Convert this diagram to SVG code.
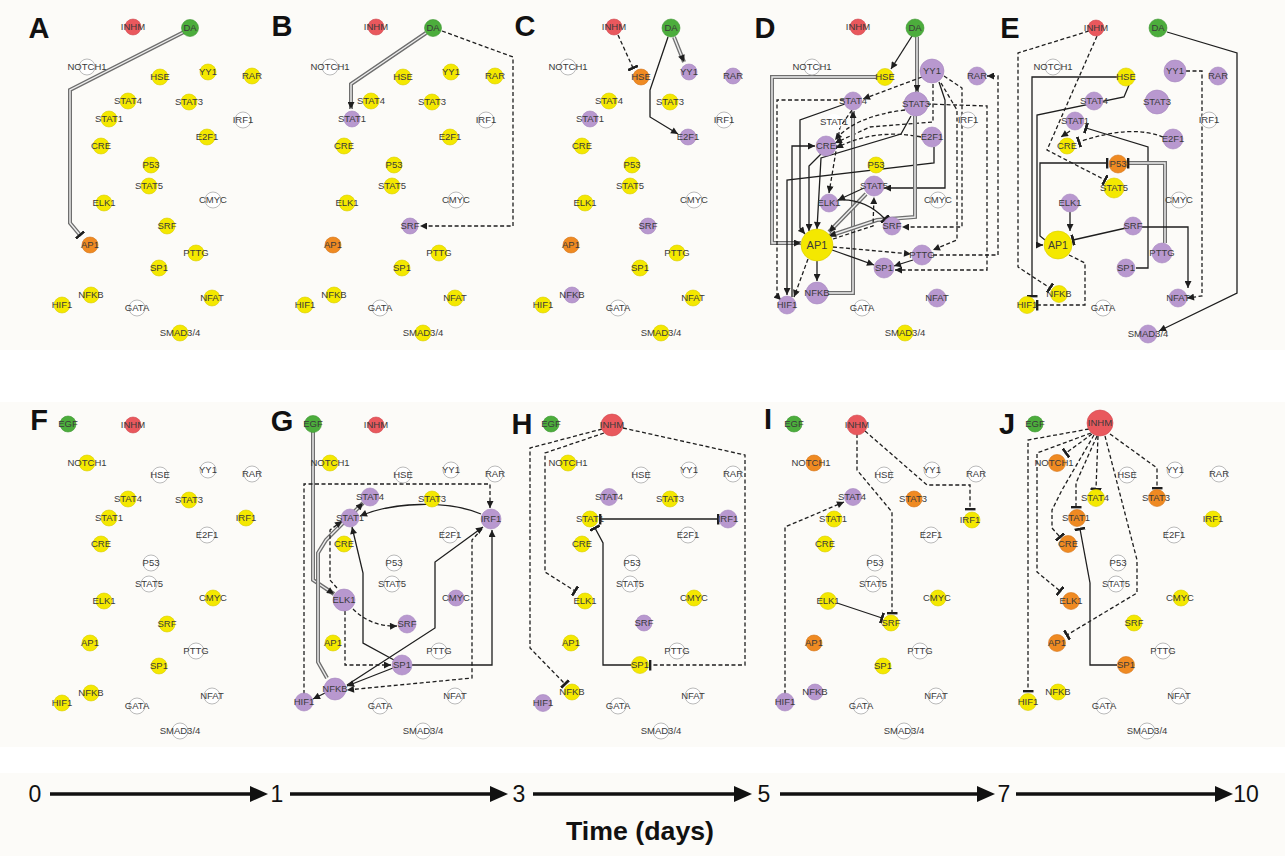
<svg xmlns="http://www.w3.org/2000/svg" width="1285" height="856" viewBox="0 0 1285 856">
<style>
text{font-family:"Liberation Sans",Arial,sans-serif}
.n text{font-size:9.5px;fill:#3a3a3a;text-anchor:middle}
.y{fill:#f4e800;stroke:#d9cd00;stroke-width:.6}
.p{fill:#b898cf;stroke:#a584bd;stroke-width:.6}
.o{fill:#ef8a22;stroke:#d4741a;stroke-width:.6}
.r{fill:#e9585d;stroke:#d04a50;stroke-width:.6}
.g{fill:#4cad3c;stroke:#3c9530;stroke-width:.6}
.w{fill:#fff;stroke:#a8a8a8;stroke-width:.8}
.s{fill:none;stroke:#1e1e1e;stroke-width:1.3}
.d{fill:none;stroke:#1e1e1e;stroke-width:1.3;stroke-dasharray:4 2.5}
.o2{fill:none;stroke:#6e6e6e;stroke-width:4}
.i2{fill:none;stroke:#eeeeee;stroke-width:1.4}
.m{fill:none;stroke:none}
.lbl{font-size:29px;font-weight:bold;fill:#111;text-anchor:middle}
.tl{font-family:"Liberation Sans Narrow","Liberation Sans",sans-serif;font-size:23px;fill:#111;text-anchor:middle}
.bg{fill:#fcfbf8}
</style>
<defs>
<marker id="a" viewBox="0 0 10 10" refX="10" refY="5" markerWidth="8" markerHeight="7" markerUnits="userSpaceOnUse" orient="auto"><path d="M0,0 L10,5 L0,10 z" fill="#1e1e1e"/></marker>
<marker id="t" viewBox="0 0 3 12" refX="1.5" refY="6" markerWidth="3" markerHeight="11" markerUnits="userSpaceOnUse" orient="auto"><rect width="3" height="12" fill="#1e1e1e"/></marker>
</defs>
<rect width="1285" height="856" fill="#fff"/>
<rect class="bg" x="0" y="0" width="1285" height="350"/>
<rect class="bg" x="0" y="402" width="1285" height="345"/>
<rect class="bg" x="0" y="773" width="1285" height="83"/>

<!-- Panel letters -->
<g id="letters">
<text class="lbl" x="39" y="38">A</text>
<text class="lbl" x="282" y="36">B</text>
<text class="lbl" x="525" y="36">C</text>
<text class="lbl" x="765" y="38">D</text>
<text class="lbl" x="1010" y="38">E</text>
<text class="lbl" x="39" y="430">F</text>
<text class="lbl" x="282" y="431">G</text>
<text class="lbl" x="522" y="434">H</text>
<text class="lbl" x="768" y="429">I</text>
<text class="lbl" x="1007" y="434">J</text>
</g>

<!-- ===== Panel A ===== -->
<g id="panelA" transform="translate(0,0)">
<g id="A-edges">
<g><path class="o2" d="M184,32 L70,90 L70,223 L80,235"/><path class="i2" d="M184,32 L70,90 L70,223 L80,235"/><path class="m" d="M184,32 L70,90 L70,223 L80,235" marker-end="url(#t)"/></g>
</g>
<g id="A-INHM" class="n"><circle class="r" cx="133" cy="27" r="8"/><text x="133" y="30.4">INHM</text></g>
<g id="A-DA" class="n"><circle class="g" cx="190" cy="28" r="8.5"/><text x="190" y="31.4">DA</text></g>
<g id="A-NOTCH1" class="n"><circle class="w" cx="87" cy="67" r="8"/><text x="87" y="70.4">NOTCH1</text></g>
<g id="A-HSE" class="n"><circle class="y" cx="160" cy="77" r="8"/><text x="160" y="80.4">HSE</text></g>
<g id="A-YY1" class="n"><circle class="y" cx="208" cy="72" r="8"/><text x="208" y="75.4">YY1</text></g>
<g id="A-RAR" class="n"><circle class="y" cx="252" cy="76" r="8"/><text x="252" y="79.4">RAR</text></g>
<g id="A-STAT4" class="n"><circle class="y" cx="128" cy="101" r="8"/><text x="128" y="104.4">STAT4</text></g>
<g id="A-STAT3" class="n"><circle class="y" cx="189" cy="102" r="8"/><text x="189" y="105.4">STAT3</text></g>
<g id="A-STAT1" class="n"><circle class="y" cx="109" cy="119" r="8"/><text x="109" y="122.4">STAT1</text></g>
<g id="A-IRF1" class="n"><circle class="w" cx="243" cy="120" r="8"/><text x="243" y="123.4">IRF1</text></g>
<g id="A-E2F1" class="n"><circle class="y" cx="207" cy="137" r="8"/><text x="207" y="140.4">E2F1</text></g>
<g id="A-CRE" class="n"><circle class="y" cx="101" cy="146" r="8"/><text x="101" y="149.4">CRE</text></g>
<g id="A-P53" class="n"><circle class="y" cx="151" cy="165" r="8"/><text x="151" y="168.4">P53</text></g>
<g id="A-STAT5" class="n"><circle class="y" cx="149" cy="186" r="8"/><text x="149" y="189.4">STAT5</text></g>
<g id="A-ELK1" class="n"><circle class="y" cx="104" cy="203" r="8"/><text x="104" y="206.4">ELK1</text></g>
<g id="A-CMYC" class="n"><circle class="w" cx="213" cy="200" r="8"/><text x="213" y="203.4">CMYC</text></g>
<g id="A-SRF" class="n"><circle class="y" cx="167" cy="226" r="8"/><text x="167" y="229.4">SRF</text></g>
<g id="A-AP1" class="n"><circle class="o" cx="90" cy="245" r="8"/><text x="90" y="248.4">AP1</text></g>
<g id="A-PTTG" class="n"><circle class="y" cx="196" cy="253" r="8"/><text x="196" y="256.4">PTTG</text></g>
<g id="A-SP1" class="n"><circle class="y" cx="159" cy="268" r="8"/><text x="159" y="271.4">SP1</text></g>
<g id="A-NFKB" class="n"><circle class="y" cx="91" cy="295" r="8"/><text x="91" y="298.4">NFKB</text></g>
<g id="A-HIF1" class="n"><circle class="y" cx="62" cy="305" r="8"/><text x="62" y="308.4">HIF1</text></g>
<g id="A-GATA" class="n"><circle class="w" cx="137" cy="308" r="8"/><text x="137" y="311.4">GATA</text></g>
<g id="A-NFAT" class="n"><circle class="y" cx="212" cy="298" r="8"/><text x="212" y="301.4">NFAT</text></g>
<g id="A-SMAD34" class="n"><circle class="y" cx="180" cy="333" r="8"/><text x="180" y="336.4">SMAD3/4</text></g>
</g>

<!-- ===== Panel B ===== -->
<g id="panelB" transform="translate(243,0)">
<g id="B-edges">
<g><path class="o2" d="M183,33 L108,84 L108,109"/><path class="i2" d="M183,33 L108,84 L108,109"/><path class="m" d="M183,33 L108,84 L108,109" marker-end="url(#a)"/></g>
<path class="d" d="M199,31 L270,57 L270,226 L177,226" marker-end="url(#a)"/>
</g>
<g id="B-INHM" class="n"><circle class="r" cx="133" cy="27" r="8"/><text x="133" y="30.4">INHM</text></g>
<g id="B-DA" class="n"><circle class="g" cx="190" cy="28" r="8.5"/><text x="190" y="31.4">DA</text></g>
<g id="B-NOTCH1" class="n"><circle class="w" cx="87" cy="67" r="8"/><text x="87" y="70.4">NOTCH1</text></g>
<g id="B-HSE" class="n"><circle class="y" cx="160" cy="77" r="8"/><text x="160" y="80.4">HSE</text></g>
<g id="B-YY1" class="n"><circle class="y" cx="208" cy="72" r="8"/><text x="208" y="75.4">YY1</text></g>
<g id="B-RAR" class="n"><circle class="y" cx="252" cy="76" r="8"/><text x="252" y="79.4">RAR</text></g>
<g id="B-STAT4" class="n"><circle class="y" cx="128" cy="101" r="8"/><text x="128" y="104.4">STAT4</text></g>
<g id="B-STAT3" class="n"><circle class="y" cx="189" cy="102" r="8"/><text x="189" y="105.4">STAT3</text></g>
<g id="B-STAT1" class="n"><circle class="p" cx="109" cy="119" r="8"/><text x="109" y="122.4">STAT1</text></g>
<g id="B-IRF1" class="n"><circle class="w" cx="243" cy="120" r="8"/><text x="243" y="123.4">IRF1</text></g>
<g id="B-E2F1" class="n"><circle class="y" cx="207" cy="137" r="8"/><text x="207" y="140.4">E2F1</text></g>
<g id="B-CRE" class="n"><circle class="y" cx="101" cy="146" r="8"/><text x="101" y="149.4">CRE</text></g>
<g id="B-P53" class="n"><circle class="y" cx="151" cy="165" r="8"/><text x="151" y="168.4">P53</text></g>
<g id="B-STAT5" class="n"><circle class="y" cx="149" cy="186" r="8"/><text x="149" y="189.4">STAT5</text></g>
<g id="B-ELK1" class="n"><circle class="y" cx="104" cy="203" r="8"/><text x="104" y="206.4">ELK1</text></g>
<g id="B-CMYC" class="n"><circle class="w" cx="213" cy="200" r="8"/><text x="213" y="203.4">CMYC</text></g>
<g id="B-SRF" class="n"><circle class="p" cx="167" cy="226" r="8"/><text x="167" y="229.4">SRF</text></g>
<g id="B-AP1" class="n"><circle class="o" cx="90" cy="245" r="8"/><text x="90" y="248.4">AP1</text></g>
<g id="B-PTTG" class="n"><circle class="y" cx="196" cy="253" r="8"/><text x="196" y="256.4">PTTG</text></g>
<g id="B-SP1" class="n"><circle class="y" cx="159" cy="268" r="8"/><text x="159" y="271.4">SP1</text></g>
<g id="B-NFKB" class="n"><circle class="y" cx="91" cy="295" r="8"/><text x="91" y="298.4">NFKB</text></g>
<g id="B-HIF1" class="n"><circle class="y" cx="62" cy="305" r="8"/><text x="62" y="308.4">HIF1</text></g>
<g id="B-GATA" class="n"><circle class="w" cx="137" cy="308" r="8"/><text x="137" y="311.4">GATA</text></g>
<g id="B-NFAT" class="n"><circle class="y" cx="212" cy="298" r="8"/><text x="212" y="301.4">NFAT</text></g>
<g id="B-SMAD34" class="n"><circle class="y" cx="180" cy="333" r="8"/><text x="180" y="336.4">SMAD3/4</text></g>
</g>

<!-- ===== Panel C ===== -->
<g id="panelC" transform="translate(481,0)">
<g id="C-edges">
<path class="d" d="M137,35 L152,68" marker-end="url(#t)"/>
<g><path class="o2" d="M193,37 L203,62"/><path class="i2" d="M193,37 L203,62"/><path class="m" d="M193,37 L203,62" marker-end="url(#a)"/></g>
<path class="s" d="M187,37 L169,90 L169,117 L197,134" marker-end="url(#a)"/>
</g>
<g id="C-INHM" class="n"><circle class="r" cx="133" cy="27" r="8"/><text x="133" y="30.4">INHM</text></g>
<g id="C-DA" class="n"><circle class="g" cx="190" cy="28" r="9"/><text x="190" y="31.4">DA</text></g>
<g id="C-NOTCH1" class="n"><circle class="w" cx="87" cy="67" r="8"/><text x="87" y="70.4">NOTCH1</text></g>
<g id="C-HSE" class="n"><circle class="o" cx="160" cy="77" r="8"/><text x="160" y="80.4">HSE</text></g>
<g id="C-YY1" class="n"><circle class="p" cx="208" cy="72" r="8"/><text x="208" y="75.4">YY1</text></g>
<g id="C-RAR" class="n"><circle class="p" cx="252" cy="76" r="8"/><text x="252" y="79.4">RAR</text></g>
<g id="C-STAT4" class="n"><circle class="y" cx="128" cy="101" r="8"/><text x="128" y="104.4">STAT4</text></g>
<g id="C-STAT3" class="n"><circle class="y" cx="189" cy="102" r="8"/><text x="189" y="105.4">STAT3</text></g>
<g id="C-STAT1" class="n"><circle class="p" cx="109" cy="119" r="8"/><text x="109" y="122.4">STAT1</text></g>
<g id="C-IRF1" class="n"><circle class="w" cx="243" cy="120" r="8"/><text x="243" y="123.4">IRF1</text></g>
<g id="C-E2F1" class="n"><circle class="p" cx="207" cy="137" r="8"/><text x="207" y="140.4">E2F1</text></g>
<g id="C-CRE" class="n"><circle class="y" cx="101" cy="146" r="8"/><text x="101" y="149.4">CRE</text></g>
<g id="C-P53" class="n"><circle class="y" cx="151" cy="165" r="8"/><text x="151" y="168.4">P53</text></g>
<g id="C-STAT5" class="n"><circle class="y" cx="149" cy="186" r="8"/><text x="149" y="189.4">STAT5</text></g>
<g id="C-ELK1" class="n"><circle class="y" cx="104" cy="203" r="8"/><text x="104" y="206.4">ELK1</text></g>
<g id="C-CMYC" class="n"><circle class="w" cx="213" cy="200" r="8"/><text x="213" y="203.4">CMYC</text></g>
<g id="C-SRF" class="n"><circle class="p" cx="167" cy="226" r="8"/><text x="167" y="229.4">SRF</text></g>
<g id="C-AP1" class="n"><circle class="o" cx="90" cy="245" r="8"/><text x="90" y="248.4">AP1</text></g>
<g id="C-PTTG" class="n"><circle class="y" cx="196" cy="253" r="8"/><text x="196" y="256.4">PTTG</text></g>
<g id="C-SP1" class="n"><circle class="y" cx="159" cy="268" r="8"/><text x="159" y="271.4">SP1</text></g>
<g id="C-NFKB" class="n"><circle class="p" cx="91" cy="295" r="8"/><text x="91" y="298.4">NFKB</text></g>
<g id="C-HIF1" class="n"><circle class="y" cx="62" cy="305" r="8"/><text x="62" y="308.4">HIF1</text></g>
<g id="C-GATA" class="n"><circle class="w" cx="137" cy="308" r="8"/><text x="137" y="311.4">GATA</text></g>
<g id="C-NFAT" class="n"><circle class="y" cx="212" cy="298" r="8"/><text x="212" y="301.4">NFAT</text></g>
<g id="C-SMAD34" class="n"><circle class="y" cx="180" cy="333" r="8"/><text x="180" y="336.4">SMAD3/4</text></g>
</g>

<!-- ===== Panel D ===== -->
<g id="panelD" transform="translate(725,0)">
<g id="D-edges">
<path class="s" d="M187,36 L166,69" marker-end="url(#a)"/>
<g><path class="o2" d="M192,37 L192,92"/><path class="i2" d="M192,37 L192,92"/><path class="m" d="M192,37 L192,92" marker-end="url(#a)"/></g>
<g><path class="o2" d="M152,77 L47,77 L47,243 L76,243"/><path class="i2" d="M152,77 L47,77 L47,243 L76,243"/><path class="m" d="M152,77 L47,77 L47,243 L76,243" marker-end="url(#a)"/></g>
<path class="d" d="M197,77 L138,99" marker-end="url(#a)"/>
<path class="d" d="M208,84 L208,122 L145,127 L110,143" marker-end="url(#a)"/>
<path class="s" d="M214,82 L220,100 L220,188 L159,188" marker-end="url(#a)"/>
<path class="d" d="M219,76 L237,88 L237,227 L177,227" marker-end="url(#a)"/>
<path class="d" d="M216,83 L232,110 L232,240 L208,250" marker-end="url(#a)"/>
<path class="d" d="M208,255 L273,255 L273,76 L262,76" marker-end="url(#a)"/>
<path class="d" d="M202,104 L262,106 L262,270 L170,270" marker-end="url(#a)"/>
<path class="d" d="M119,100 L52,100 L52,296 L56,300" marker-end="url(#a)"/>
<g><path class="o2" d="M103,293 L128,293 L128,111"/><path class="i2" d="M103,293 L128,293 L128,111"/><path class="m" d="M103,293 L128,293 L128,111" marker-end="url(#a)"/></g>
<path class="s" d="M120,104 L75,120 L75,228 L80,234" marker-end="url(#a)"/>
<path class="s" d="M186,116 L176,134 L96,158 L92,229" marker-end="url(#a)"/>
<path class="s" d="M96,154 L84,166 L84,231" marker-end="url(#a)"/>
<path class="s" d="M67,297 L67,146 L90,146" marker-end="url(#a)"/>
<path class="d" d="M196,137 Q150,128 111,148" marker-end="url(#a)"/>
<path class="s" d="M209,147 L209,163 L62,180 L62,295" marker-end="url(#a)"/>
<g><path class="o2" d="M190,116 L190,217 L152,220 L104,236"/><path class="i2" d="M190,116 L190,217 L152,220 L104,236"/><path class="m" d="M190,116 L190,217 L152,220 L104,236" marker-end="url(#a)"/></g>
<g><path class="o2" d="M141,194 L104,232"/><path class="i2" d="M141,194 L104,232"/><path class="m" d="M141,194 L104,232" marker-end="url(#a)"/></g>
<path class="d" d="M127,110 L115,127 L104,193" marker-end="url(#a)"/>
<path class="s" d="M113,200 Q140,198 160,219" marker-end="url(#t)"/>
<path class="d" d="M108,239 L148,226 L149,197" marker-end="url(#a)"/>
<path class="d" d="M108,247 L186,254" marker-end="url(#a)"/>
<path class="s" d="M107,250 Q130,258 149,265" marker-end="url(#a)"/>
<path class="s" d="M188,260 L169,266" marker-end="url(#a)"/>
<path class="s" d="M92,261 L92,281" marker-end="url(#a)"/>
<path class="d" d="M83,259 L69,297" marker-end="url(#a)"/>
<path class="s" d="M139,188 L113,200" marker-end="url(#a)"/>
<path class="d" d="M180,110 Q130,116 110,140" marker-end="url(#a)"/>
</g>
<g id="D-INHM" class="n"><circle class="r" cx="133" cy="27" r="8"/><text x="133" y="30.4">INHM</text></g>
<g id="D-DA" class="n"><circle class="g" cx="190" cy="28" r="9"/><text x="190" y="31.4">DA</text></g>
<g id="D-NOTCH1" class="n"><circle class="w" cx="87" cy="67" r="8"/><text x="87" y="70.4">NOTCH1</text></g>
<g id="D-HSE" class="n"><circle class="y" cx="160" cy="77" r="8.5"/><text x="160" y="80.4">HSE</text></g>
<g id="D-YY1" class="n"><circle class="p" cx="207" cy="71" r="12"/><text x="207" y="74.4">YY1</text></g>
<g id="D-RAR" class="n"><circle class="p" cx="252" cy="76" r="9"/><text x="252" y="79.4">RAR</text></g>
<g id="D-STAT4" class="n"><circle class="p" cx="128" cy="101" r="9"/><text x="128" y="104.4">STAT4</text></g>
<g id="D-STAT3" class="n"><circle class="p" cx="191" cy="104" r="12"/><text x="191" y="107.4">STAT3</text></g>
<g id="D-STAT1" class="n"><circle class="w" cx="109" cy="122" r="8" style="stroke:none"/><text x="109" y="125.4">STAT1</text></g>
<g id="D-IRF1" class="n"><circle class="w" cx="243" cy="120" r="8"/><text x="243" y="123.4">IRF1</text></g>
<g id="D-E2F1" class="n"><circle class="p" cx="207" cy="137" r="10"/><text x="207" y="140.4">E2F1</text></g>
<g id="D-CRE" class="n"><circle class="p" cx="101" cy="146" r="10"/><text x="101" y="149.4">CRE</text></g>
<g id="D-P53" class="n"><circle class="y" cx="151" cy="165" r="8"/><text x="151" y="168.4">P53</text></g>
<g id="D-STAT5" class="n"><circle class="p" cx="149" cy="186" r="10"/><text x="149" y="189.4">STAT5</text></g>
<g id="D-ELK1" class="n"><circle class="p" cx="104" cy="203" r="9"/><text x="104" y="206.4">ELK1</text></g>
<g id="D-CMYC" class="n"><circle class="w" cx="213" cy="200" r="8"/><text x="213" y="203.4">CMYC</text></g>
<g id="D-SRF" class="n"><circle class="p" cx="167" cy="226" r="9"/><text x="167" y="229.4">SRF</text></g>
<g id="D-AP1" class="n"><circle class="y" cx="92" cy="245" r="16"/><text x="92" y="249" style="font-size:11px">AP1</text></g>
<g id="D-PTTG" class="n"><circle class="p" cx="197" cy="255" r="10"/><text x="197" y="258.4">PTTG</text></g>
<g id="D-SP1" class="n"><circle class="p" cx="159" cy="268" r="10"/><text x="159" y="271.4">SP1</text></g>
<g id="D-NFKB" class="n"><circle class="p" cx="92" cy="293" r="11"/><text x="92" y="296.4">NFKB</text></g>
<g id="D-HIF1" class="n"><circle class="p" cx="62" cy="305" r="9"/><text x="62" y="308.4">HIF1</text></g>
<g id="D-GATA" class="n"><circle class="w" cx="137" cy="308" r="8"/><text x="137" y="311.4">GATA</text></g>
<g id="D-NFAT" class="n"><circle class="p" cx="212" cy="298" r="9"/><text x="212" y="301.4">NFAT</text></g>
<g id="D-SMAD34" class="n"><circle class="y" cx="180" cy="333" r="8"/><text x="180" y="336.4">SMAD3/4</text></g>
</g>

<!-- ===== Panel E ===== -->
<g id="panelE" transform="translate(966,0)">
<g id="E-edges">
<path class="d" d="M123,31 L52,53 L52,267 L84,288" marker-end="url(#t)"/>
<path class="d" d="M131,36 L81,150 L139,180" marker-end="url(#t)"/>
<path class="s" d="M201,32 L271,53 L271,293 L193,331" marker-end="url(#a)"/>
<path class="d" d="M220,71 L236,71 L236,296 L221,298" marker-end="url(#a)"/>
<path class="s" d="M152,77 L66,77 L66,296" marker-end="url(#t)"/>
<path class="s" d="M163,85 L158,97 L71,115 L71,245 L77,245" marker-end="url(#a)"/>
<path class="d" d="M197,137 Q165,124 113,142" marker-end="url(#t)"/>
<path class="d" d="M104,131 L95,137" marker-end="url(#a)"/>
<path class="s" d="M170,268 L182,268 L182,147 L120,128" marker-end="url(#t)"/>
<path class="s" d="M79,240 L74,236 L74,163 L141,163" marker-end="url(#t)"/>
<g><path class="o2" d="M199,243 L199,163 L162,163"/><path class="i2" d="M199,243 L199,163 L162,163"/><path class="m" d="M199,243 L199,163 L162,163" marker-end="url(#t)"/></g>
<path class="s" d="M104,212 L104,231" marker-end="url(#a)"/>
<path class="s" d="M160,228 L107,240" marker-end="url(#t)"/>
<path class="s" d="M175,227 L222,227 L222,288" marker-end="url(#a)"/>
<path class="d" d="M103,255 L119,263 L119,305 L71,305" marker-end="url(#t)"/>
</g>
<g id="E-INHM" class="n"><circle class="r" cx="130" cy="28" r="8"/><text x="130" y="31.4">INHM</text></g>
<g id="E-DA" class="n"><circle class="g" cx="192" cy="28" r="9"/><text x="192" y="31.4">DA</text></g>
<g id="E-NOTCH1" class="n"><circle class="w" cx="87" cy="67" r="8"/><text x="87" y="70.4">NOTCH1</text></g>
<g id="E-HSE" class="n"><circle class="y" cx="160" cy="77" r="9"/><text x="160" y="80.4">HSE</text></g>
<g id="E-YY1" class="n"><circle class="p" cx="209" cy="71" r="11"/><text x="209" y="74.4">YY1</text></g>
<g id="E-RAR" class="n"><circle class="p" cx="252" cy="76" r="9"/><text x="252" y="79.4">RAR</text></g>
<g id="E-STAT4" class="n"><circle class="p" cx="128" cy="101" r="9"/><text x="128" y="104.4">STAT4</text></g>
<g id="E-STAT3" class="n"><circle class="p" cx="191" cy="102" r="12"/><text x="191" y="105.4">STAT3</text></g>
<g id="E-STAT1" class="n"><circle class="p" cx="109" cy="121" r="9"/><text x="109" y="124.4">STAT1</text></g>
<g id="E-IRF1" class="n"><circle class="w" cx="243" cy="120" r="8"/><text x="243" y="123.4">IRF1</text></g>
<g id="E-E2F1" class="n"><circle class="p" cx="207" cy="139" r="10"/><text x="207" y="142.4">E2F1</text></g>
<g id="E-CRE" class="n"><circle class="y" cx="101" cy="146" r="8"/><text x="101" y="149.4">CRE</text></g>
<g id="E-P53" class="n"><circle class="o" cx="152" cy="164" r="9"/><text x="152" y="167.4">P53</text></g>
<g id="E-STAT5" class="n"><circle class="y" cx="148" cy="188" r="10"/><text x="148" y="191.4">STAT5</text></g>
<g id="E-ELK1" class="n"><circle class="p" cx="104" cy="203" r="9"/><text x="104" y="206.4">ELK1</text></g>
<g id="E-CMYC" class="n"><circle class="w" cx="213" cy="200" r="8"/><text x="213" y="203.4">CMYC</text></g>
<g id="E-SRF" class="n"><circle class="p" cx="167" cy="226" r="9"/><text x="167" y="229.4">SRF</text></g>
<g id="E-AP1" class="n"><circle class="y" cx="92" cy="245" r="14"/><text x="92" y="249" style="font-size:10.5px">AP1</text></g>
<g id="E-PTTG" class="n"><circle class="p" cx="196" cy="253" r="10"/><text x="196" y="256.4">PTTG</text></g>
<g id="E-SP1" class="n"><circle class="p" cx="160" cy="268" r="9"/><text x="160" y="271.4">SP1</text></g>
<g id="E-NFKB" class="n"><circle class="y" cx="93" cy="294" r="8.5"/><text x="93" y="297.4">NFKB</text></g>
<g id="E-HIF1" class="n"><circle class="y" cx="61" cy="305" r="8.5"/><text x="61" y="308.4">HIF1</text></g>
<g id="E-GATA" class="n"><circle class="w" cx="137" cy="308" r="8"/><text x="137" y="311.4">GATA</text></g>
<g id="E-NFAT" class="n"><circle class="p" cx="212" cy="298" r="9"/><text x="212" y="301.4">NFAT</text></g>
<g id="E-SMAD34" class="n"><circle class="p" cx="182" cy="334" r="9"/><text x="182" y="337.4">SMAD3/4</text></g>
</g>

<!-- ===== Panel F ===== -->
<g id="panelF" transform="translate(0,398)">
<g id="F-EGF" class="n"><circle class="g" cx="68" cy="26" r="8"/><text x="68" y="29.4">EGF</text></g>
<g id="F-INHM" class="n"><circle class="r" cx="133" cy="27" r="8"/><text x="133" y="30.4">INHM</text></g>
<g id="F-NOTCH1" class="n"><circle class="y" cx="87" cy="65" r="8"/><text x="87" y="68.4">NOTCH1</text></g>
<g id="F-HSE" class="n"><circle class="w" cx="160" cy="77" r="8"/><text x="160" y="80.4">HSE</text></g>
<g id="F-YY1" class="n"><circle class="w" cx="208" cy="72" r="8"/><text x="208" y="75.4">YY1</text></g>
<g id="F-RAR" class="n"><circle class="w" cx="252" cy="76" r="8"/><text x="252" y="79.4">RAR</text></g>
<g id="F-STAT4" class="n"><circle class="y" cx="128" cy="101" r="8"/><text x="128" y="104.4">STAT4</text></g>
<g id="F-STAT3" class="n"><circle class="y" cx="189" cy="102" r="8"/><text x="189" y="105.4">STAT3</text></g>
<g id="F-STAT1" class="n"><circle class="y" cx="109" cy="120" r="8"/><text x="109" y="123.4">STAT1</text></g>
<g id="F-IRF1" class="n"><circle class="y" cx="246" cy="120" r="8"/><text x="246" y="123.4">IRF1</text></g>
<g id="F-E2F1" class="n"><circle class="w" cx="207" cy="137" r="8"/><text x="207" y="140.4">E2F1</text></g>
<g id="F-CRE" class="n"><circle class="y" cx="101" cy="146" r="8"/><text x="101" y="149.4">CRE</text></g>
<g id="F-P53" class="n"><circle class="w" cx="151" cy="165" r="8"/><text x="151" y="168.4">P53</text></g>
<g id="F-STAT5" class="n"><circle class="w" cx="149" cy="186" r="8"/><text x="149" y="189.4">STAT5</text></g>
<g id="F-ELK1" class="n"><circle class="y" cx="104" cy="203" r="8"/><text x="104" y="206.4">ELK1</text></g>
<g id="F-CMYC" class="n"><circle class="y" cx="213" cy="200" r="8"/><text x="213" y="203.4">CMYC</text></g>
<g id="F-SRF" class="n"><circle class="y" cx="167" cy="226" r="8"/><text x="167" y="229.4">SRF</text></g>
<g id="F-AP1" class="n"><circle class="y" cx="90" cy="245" r="8"/><text x="90" y="248.4">AP1</text></g>
<g id="F-PTTG" class="n"><circle class="w" cx="196" cy="253" r="8"/><text x="196" y="256.4">PTTG</text></g>
<g id="F-SP1" class="n"><circle class="y" cx="159" cy="268" r="8"/><text x="159" y="271.4">SP1</text></g>
<g id="F-NFKB" class="n"><circle class="y" cx="91" cy="295" r="8"/><text x="91" y="298.4">NFKB</text></g>
<g id="F-HIF1" class="n"><circle class="y" cx="62" cy="305" r="8"/><text x="62" y="308.4">HIF1</text></g>
<g id="F-GATA" class="n"><circle class="w" cx="137" cy="308" r="8"/><text x="137" y="311.4">GATA</text></g>
<g id="F-NFAT" class="n"><circle class="w" cx="212" cy="298" r="8"/><text x="212" y="301.4">NFAT</text></g>
<g id="F-SMAD34" class="n"><circle class="w" cx="180" cy="333" r="8"/><text x="180" y="336.4">SMAD3/4</text></g>
</g>

<!-- ===== Panel G ===== -->
<g id="panelG" transform="translate(243,398)">
<g id="G-edges">
<g><path class="o2" d="M70,33 L70,182 L91,196"/><path class="i2" d="M70,33 L70,182 L91,196"/><path class="m" d="M70,33 L70,182 L91,196" marker-end="url(#a)"/></g>
<g><path class="o2" d="M84,280 L75,264 L75,155 L83,142 L120,105"/><path class="i2" d="M84,280 L75,264 L75,155 L83,142 L120,105"/><path class="m" d="M84,280 L75,264 L75,155 L83,142 L120,105" marker-end="url(#a)"/></g>
<path class="s" d="M238,116 C205,102 150,104 117,118" marker-end="url(#a)"/>
<path class="d" d="M61,296 L61,86 L247,86 L247,110" marker-end="url(#a)"/>
<path class="d" d="M94,190 L87,182 L87,132 L99,123" marker-end="url(#a)"/>
<path class="d" d="M110,211 Q128,229 154,228" marker-end="url(#a)"/>
<path class="d" d="M102,213 L102,267 L148,267" marker-end="url(#a)"/>
<path class="s" d="M151,262 L120,245 L120,175 L109,129" marker-end="url(#a)"/>
<path class="s" d="M169,267 L249,267 L249,132" marker-end="url(#a)"/>
<path class="s" d="M104,287 L192,230 L192,164 L240,129" marker-end="url(#a)"/>
<path class="s" d="M150,270 L104,288" marker-end="url(#a)"/>
<path class="d" d="M239,131 L229,142 L229,280 L104,292" marker-end="url(#a)"/>
<path class="s" d="M82,295 L70,301" marker-end="url(#a)"/>
</g>
<g id="G-EGF" class="n"><circle class="g" cx="70" cy="26" r="8.5"/><text x="70" y="29.4">EGF</text></g>
<g id="G-INHM" class="n"><circle class="r" cx="133" cy="27" r="8"/><text x="133" y="30.4">INHM</text></g>
<g id="G-NOTCH1" class="n"><circle class="y" cx="87" cy="65" r="8"/><text x="87" y="68.4">NOTCH1</text></g>
<g id="G-HSE" class="n"><circle class="w" cx="160" cy="77" r="8"/><text x="160" y="80.4">HSE</text></g>
<g id="G-YY1" class="n"><circle class="w" cx="208" cy="72" r="8"/><text x="208" y="75.4">YY1</text></g>
<g id="G-RAR" class="n"><circle class="w" cx="252" cy="76" r="8"/><text x="252" y="79.4">RAR</text></g>
<g id="G-STAT4" class="n"><circle class="p" cx="127" cy="99" r="9"/><text x="127" y="102.4">STAT4</text></g>
<g id="G-STAT3" class="n"><circle class="y" cx="189" cy="101" r="8"/><text x="189" y="104.4">STAT3</text></g>
<g id="G-STAT1" class="n"><circle class="p" cx="107" cy="120" r="9"/><text x="107" y="123.4">STAT1</text></g>
<g id="G-IRF1" class="n"><circle class="p" cx="248" cy="121" r="10"/><text x="248" y="124.4">IRF1</text></g>
<g id="G-E2F1" class="n"><circle class="w" cx="207" cy="137" r="8"/><text x="207" y="140.4">E2F1</text></g>
<g id="G-CRE" class="n"><circle class="y" cx="101" cy="146" r="8"/><text x="101" y="149.4">CRE</text></g>
<g id="G-P53" class="n"><circle class="w" cx="151" cy="165" r="8"/><text x="151" y="168.4">P53</text></g>
<g id="G-STAT5" class="n"><circle class="w" cx="149" cy="186" r="8"/><text x="149" y="189.4">STAT5</text></g>
<g id="G-ELK1" class="n"><circle class="p" cx="101" cy="202" r="11"/><text x="101" y="205.4">ELK1</text></g>
<g id="G-CMYC" class="n"><circle class="p" cx="213" cy="200" r="8"/><text x="213" y="203.4">CMYC</text></g>
<g id="G-SRF" class="n"><circle class="p" cx="164" cy="226" r="9"/><text x="164" y="229.4">SRF</text></g>
<g id="G-AP1" class="n"><circle class="y" cx="90" cy="245" r="8"/><text x="90" y="248.4">AP1</text></g>
<g id="G-PTTG" class="n"><circle class="w" cx="196" cy="253" r="8"/><text x="196" y="256.4">PTTG</text></g>
<g id="G-SP1" class="n"><circle class="p" cx="159" cy="267" r="10"/><text x="159" y="270.4">SP1</text></g>
<g id="G-NFKB" class="n"><circle class="p" cx="92" cy="291" r="11"/><text x="92" y="294.4">NFKB</text></g>
<g id="G-HIF1" class="n"><circle class="p" cx="61" cy="304" r="9"/><text x="61" y="307.4">HIF1</text></g>
<g id="G-GATA" class="n"><circle class="w" cx="137" cy="308" r="8"/><text x="137" y="311.4">GATA</text></g>
<g id="G-NFAT" class="n"><circle class="w" cx="212" cy="298" r="8"/><text x="212" y="301.4">NFAT</text></g>
<g id="G-SMAD34" class="n"><circle class="w" cx="180" cy="333" r="8"/><text x="180" y="336.4">SMAD3/4</text></g>
</g>

<!-- ===== Panel H ===== -->
<g id="panelH" transform="translate(481,398)">
<g id="H-edges">
<path class="d" d="M121,31 L49,50 L49,250 L84,286" marker-end="url(#t)"/>
<path class="d" d="M123,35 L64,55 L64,174 L94,193" marker-end="url(#t)"/>
<path class="d" d="M142,30 L264,57 L264,267 L169,267" marker-end="url(#t)"/>
<path class="s" d="M119,121 L237,121" marker-start="url(#t)" marker-end="url(#t)"/>
<path class="s" d="M151,267 L122,267 L122,145 L114,130" marker-end="url(#t)"/>
</g>
<g id="H-EGF" class="n"><circle class="g" cx="70" cy="26" r="8"/><text x="70" y="29.4">EGF</text></g>
<g id="H-INHM" class="n"><circle class="r" cx="131" cy="27" r="11"/><text x="131" y="30.4">INHM</text></g>
<g id="H-NOTCH1" class="n"><circle class="y" cx="87" cy="65" r="8"/><text x="87" y="68.4">NOTCH1</text></g>
<g id="H-HSE" class="n"><circle class="w" cx="160" cy="77" r="8"/><text x="160" y="80.4">HSE</text></g>
<g id="H-YY1" class="n"><circle class="w" cx="208" cy="72" r="8"/><text x="208" y="75.4">YY1</text></g>
<g id="H-RAR" class="n"><circle class="w" cx="252" cy="76" r="8"/><text x="252" y="79.4">RAR</text></g>
<g id="H-STAT4" class="n"><circle class="p" cx="128" cy="99" r="8.5"/><text x="128" y="102.4">STAT4</text></g>
<g id="H-STAT3" class="n"><circle class="y" cx="189" cy="101" r="8"/><text x="189" y="104.4">STAT3</text></g>
<g id="H-STAT1" class="n"><circle class="y" cx="109" cy="121" r="8"/><text x="109" y="124.4">STAT1</text></g>
<g id="H-IRF1" class="n"><circle class="p" cx="247" cy="121" r="9"/><text x="247" y="124.4">IRF1</text></g>
<g id="H-E2F1" class="n"><circle class="w" cx="207" cy="137" r="8"/><text x="207" y="140.4">E2F1</text></g>
<g id="H-CRE" class="n"><circle class="y" cx="101" cy="146" r="8"/><text x="101" y="149.4">CRE</text></g>
<g id="H-P53" class="n"><circle class="w" cx="151" cy="165" r="8"/><text x="151" y="168.4">P53</text></g>
<g id="H-STAT5" class="n"><circle class="w" cx="149" cy="186" r="8"/><text x="149" y="189.4">STAT5</text></g>
<g id="H-ELK1" class="n"><circle class="y" cx="104" cy="203" r="8"/><text x="104" y="206.4">ELK1</text></g>
<g id="H-CMYC" class="n"><circle class="y" cx="213" cy="200" r="8"/><text x="213" y="203.4">CMYC</text></g>
<g id="H-SRF" class="n"><circle class="p" cx="163" cy="225" r="8"/><text x="163" y="228.4">SRF</text></g>
<g id="H-AP1" class="n"><circle class="y" cx="90" cy="245" r="8"/><text x="90" y="248.4">AP1</text></g>
<g id="H-PTTG" class="n"><circle class="w" cx="196" cy="253" r="8"/><text x="196" y="256.4">PTTG</text></g>
<g id="H-SP1" class="n"><circle class="y" cx="159" cy="267" r="8.5"/><text x="159" y="270.4">SP1</text></g>
<g id="H-NFKB" class="n"><circle class="y" cx="91" cy="294" r="8"/><text x="91" y="297.4">NFKB</text></g>
<g id="H-HIF1" class="n"><circle class="p" cx="62" cy="305" r="8.5"/><text x="62" y="308.4">HIF1</text></g>
<g id="H-GATA" class="n"><circle class="w" cx="137" cy="308" r="8"/><text x="137" y="311.4">GATA</text></g>
<g id="H-NFAT" class="n"><circle class="w" cx="212" cy="298" r="8"/><text x="212" y="301.4">NFAT</text></g>
<g id="H-SMAD34" class="n"><circle class="w" cx="180" cy="333" r="8"/><text x="180" y="336.4">SMAD3/4</text></g>
</g>

<!-- ===== Panel I ===== -->
<g id="panelI" transform="translate(724,398)">
<g id="I-edges">
<path class="d" d="M141,33 L203,87 L246,87 L246,111" marker-end="url(#t)"/>
<path class="d" d="M133,36 L133,72 L168,114 L168,215" marker-end="url(#t)"/>
<path class="d" d="M61,296 L61,129 L120,104" marker-end="url(#a)"/>
<path class="s" d="M113,205 L158,220" marker-end="url(#t)"/>
</g>
<g id="I-EGF" class="n"><circle class="g" cx="70" cy="26" r="8"/><text x="70" y="29.4">EGF</text></g>
<g id="I-INHM" class="n"><circle class="r" cx="133" cy="27" r="10"/><text x="133" y="30.4">INHM</text></g>
<g id="I-NOTCH1" class="n"><circle class="o" cx="90" cy="65" r="8"/><text x="87" y="68.4">NOTCH1</text></g>
<g id="I-HSE" class="n"><circle class="w" cx="160" cy="77" r="8"/><text x="160" y="80.4">HSE</text></g>
<g id="I-YY1" class="n"><circle class="w" cx="208" cy="72" r="8"/><text x="208" y="75.4">YY1</text></g>
<g id="I-RAR" class="n"><circle class="w" cx="252" cy="76" r="8"/><text x="252" y="79.4">RAR</text></g>
<g id="I-STAT4" class="n"><circle class="p" cx="129" cy="99" r="8.5"/><text x="128" y="102.4">STAT4</text></g>
<g id="I-STAT3" class="n"><circle class="o" cx="190" cy="101" r="8"/><text x="189" y="104.4">STAT3</text></g>
<g id="I-STAT1" class="n"><circle class="y" cx="110" cy="121" r="8"/><text x="109" y="124.4">STAT1</text></g>
<g id="I-IRF1" class="n"><circle class="y" cx="248" cy="122" r="8"/><text x="246" y="125.4">IRF1</text></g>
<g id="I-E2F1" class="n"><circle class="w" cx="207" cy="137" r="8"/><text x="207" y="140.4">E2F1</text></g>
<g id="I-CRE" class="n"><circle class="y" cx="101" cy="146" r="8"/><text x="101" y="149.4">CRE</text></g>
<g id="I-P53" class="n"><circle class="w" cx="151" cy="165" r="8"/><text x="151" y="168.4">P53</text></g>
<g id="I-STAT5" class="n"><circle class="w" cx="149" cy="186" r="8"/><text x="149" y="189.4">STAT5</text></g>
<g id="I-ELK1" class="n"><circle class="y" cx="104" cy="203" r="8.5"/><text x="104" y="206.4">ELK1</text></g>
<g id="I-CMYC" class="n"><circle class="y" cx="214" cy="200" r="8"/><text x="213" y="203.4">CMYC</text></g>
<g id="I-SRF" class="n"><circle class="y" cx="167" cy="225" r="8"/><text x="167" y="228.4">SRF</text></g>
<g id="I-AP1" class="n"><circle class="o" cx="90" cy="245" r="8"/><text x="90" y="248.4">AP1</text></g>
<g id="I-PTTG" class="n"><circle class="w" cx="196" cy="253" r="8"/><text x="196" y="256.4">PTTG</text></g>
<g id="I-SP1" class="n"><circle class="y" cx="159" cy="268" r="8"/><text x="159" y="271.4">SP1</text></g>
<g id="I-NFKB" class="n"><circle class="p" cx="91" cy="294" r="8"/><text x="91" y="297.4">NFKB</text></g>
<g id="I-HIF1" class="n"><circle class="p" cx="61" cy="304" r="9"/><text x="61" y="307.4">HIF1</text></g>
<g id="I-GATA" class="n"><circle class="w" cx="137" cy="308" r="8"/><text x="137" y="311.4">GATA</text></g>
<g id="I-NFAT" class="n"><circle class="w" cx="212" cy="298" r="8"/><text x="212" y="301.4">NFAT</text></g>
<g id="I-SMAD34" class="n"><circle class="w" cx="180" cy="333" r="8"/><text x="180" y="336.4">SMAD3/4</text></g>
</g>

<!-- ===== Panel J ===== -->
<g id="panelJ" transform="translate(967,398)">
<g id="J-edges">
<path class="d" d="M122,31 L61,42 L61,293" marker-end="url(#t)"/>
<path class="d" d="M124,35 L70,55 L70,174 L93,193" marker-end="url(#t)"/>
<path class="d" d="M125,36 L99,55" marker-end="url(#t)"/>
<path class="d" d="M127,37 L95,92 L85,112 L85,130 L93,139" marker-end="url(#t)"/>
<path class="d" d="M130,38 L109,85 L109,109" marker-end="url(#t)"/>
<path class="d" d="M131,38 L129,91" marker-end="url(#t)"/>
<path class="d" d="M143,36 L190,70 L190,90" marker-end="url(#t)"/>
<path class="d" d="M138,38 L170,162 L170,195 L100,237" marker-end="url(#t)"/>
<path class="s" d="M150,267 L123,267 L123,185 L113,131" marker-end="url(#t)"/>
</g>
<g id="J-EGF" class="n"><circle class="g" cx="68" cy="26" r="8"/><text x="68" y="29.4">EGF</text></g>
<g id="J-INHM" class="n"><circle class="r" cx="133" cy="25" r="13"/><text x="133" y="28.4">INHM</text></g>
<g id="J-NOTCH1" class="n"><circle class="o" cx="90" cy="65" r="8.5"/><text x="87" y="68.4">NOTCH1</text></g>
<g id="J-HSE" class="n"><circle class="w" cx="160" cy="77" r="8"/><text x="160" y="80.4">HSE</text></g>
<g id="J-YY1" class="n"><circle class="w" cx="208" cy="72" r="8"/><text x="208" y="75.4">YY1</text></g>
<g id="J-RAR" class="n"><circle class="w" cx="252" cy="76" r="8"/><text x="252" y="79.4">RAR</text></g>
<g id="J-STAT4" class="n"><circle class="y" cx="129" cy="100" r="8.5"/><text x="128" y="103.4">STAT4</text></g>
<g id="J-STAT3" class="n"><circle class="o" cx="190" cy="100" r="8.5"/><text x="189" y="103.4">STAT3</text></g>
<g id="J-STAT1" class="n"><circle class="o" cx="110" cy="120" r="8.5"/><text x="109" y="123.4">STAT1</text></g>
<g id="J-IRF1" class="n"><circle class="y" cx="246" cy="121" r="8"/><text x="246" y="124.4">IRF1</text></g>
<g id="J-E2F1" class="n"><circle class="w" cx="207" cy="137" r="8"/><text x="207" y="140.4">E2F1</text></g>
<g id="J-CRE" class="n"><circle class="o" cx="101" cy="146" r="8.5"/><text x="101" y="149.4">CRE</text></g>
<g id="J-P53" class="n"><circle class="w" cx="151" cy="165" r="8"/><text x="151" y="168.4">P53</text></g>
<g id="J-STAT5" class="n"><circle class="w" cx="149" cy="186" r="8"/><text x="149" y="189.4">STAT5</text></g>
<g id="J-ELK1" class="n"><circle class="o" cx="104" cy="203" r="8.5"/><text x="104" y="206.4">ELK1</text></g>
<g id="J-CMYC" class="n"><circle class="y" cx="214" cy="200" r="8"/><text x="213" y="203.4">CMYC</text></g>
<g id="J-SRF" class="n"><circle class="y" cx="167" cy="225" r="8"/><text x="167" y="228.4">SRF</text></g>
<g id="J-AP1" class="n"><circle class="o" cx="90" cy="245" r="8.5"/><text x="90" y="248.4">AP1</text></g>
<g id="J-PTTG" class="n"><circle class="w" cx="196" cy="253" r="8"/><text x="196" y="256.4">PTTG</text></g>
<g id="J-SP1" class="n"><circle class="o" cx="159" cy="267" r="8.5"/><text x="159" y="270.4">SP1</text></g>
<g id="J-NFKB" class="n"><circle class="y" cx="91" cy="294" r="8"/><text x="91" y="297.4">NFKB</text></g>
<g id="J-HIF1" class="n"><circle class="y" cx="61" cy="304" r="8.5"/><text x="61" y="307.4">HIF1</text></g>
<g id="J-GATA" class="n"><circle class="w" cx="137" cy="308" r="8"/><text x="137" y="311.4">GATA</text></g>
<g id="J-NFAT" class="n"><circle class="w" cx="212" cy="298" r="8"/><text x="212" y="301.4">NFAT</text></g>
<g id="J-SMAD34" class="n"><circle class="w" cx="180" cy="333" r="8"/><text x="180" y="336.4">SMAD3/4</text></g>
</g>

<!-- ===== Timeline ===== -->
<g id="timeline">
<g fill="#111" stroke="#111">
<line x1="50" y1="794" x2="252" y2="794" stroke-width="3.5"/><polygon points="250,786 268,794 250,802" stroke="none"/>
<line x1="290" y1="794" x2="492" y2="794" stroke-width="3.5"/><polygon points="490,786 508,794 490,802" stroke="none"/>
<line x1="533" y1="794" x2="736" y2="794" stroke-width="3.5"/><polygon points="734,786 752,794 734,802" stroke="none"/>
<line x1="780" y1="794" x2="979" y2="794" stroke-width="3.5"/><polygon points="977,786 995,794 977,802" stroke="none"/>
<line x1="1016" y1="794" x2="1217" y2="794" stroke-width="3.5"/><polygon points="1215,786 1233,794 1215,802" stroke="none"/>
</g>
<text class="tl" x="35" y="802">0</text>
<text class="tl" x="277" y="802">1</text>
<text class="tl" x="519" y="802">3</text>
<text class="tl" x="764" y="802">5</text>
<text class="tl" x="1004" y="802">7</text>
<text class="tl" x="1246" y="802">10</text>
<text class="tl" x="640" y="840" style="font-weight:bold;font-size:26px" textLength="148" lengthAdjust="spacingAndGlyphs">Time (days)</text>
</g>
</svg>
